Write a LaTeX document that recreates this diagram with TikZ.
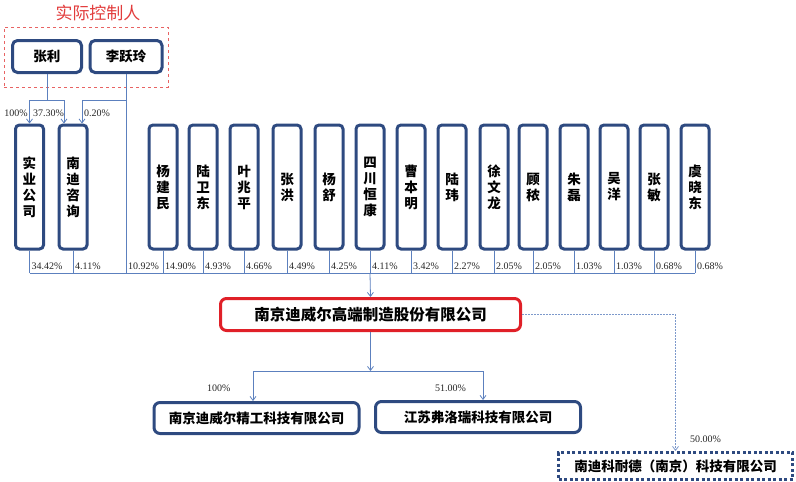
\documentclass[tikz,border=0pt]{standalone}
\usepackage{fontspec}
\setmainfont{Liberation Serif}
\newfontfamily\cjk{Noto Sans CJK SC}
\usetikzlibrary{arrows.meta,fit,calc}
\definecolor{navy}{RGB}{46,74,128}
\definecolor{conncol}{RGB}{92,128,190}
\definecolor{redmain}{RGB}{224,32,40}
\definecolor{redtitle}{RGB}{226,60,60}
\tikzset{
  person/.style={draw=navy, line width=3pt, rounded corners=4pt, minimum width=28pt, minimum height=124pt, inner sep=0pt, align=center, font=\cjk\bfseries\fontsize{13.5}{16}\selectfont},
  ctrl/.style={draw=navy, line width=3pt, rounded corners=5pt, minimum width=69pt, minimum height=32pt, inner sep=0pt, font=\cjk\bfseries\fontsize{13.5}{16}\selectfont},
  mainbox/.style={draw=redmain, line width=3pt, rounded corners=6pt, minimum width=300pt, minimum height=32pt, inner sep=0pt, font=\cjk\bfseries\fontsize{15.5}{18}\selectfont},
  subbox/.style={draw=navy, line width=3pt, rounded corners=6pt, minimum width=205pt, minimum height=31pt, inner sep=0pt, font=\cjk\bfseries\fontsize{13.5}{16}\selectfont},
  dotbox/.style={draw=navy, line width=3pt, dash pattern=on 3pt off 2.5pt, minimum width=234pt, minimum height=27pt, inner sep=0pt, font=\cjk\bfseries\fontsize{13.5}{16}\selectfont},
  conn/.style={draw=conncol, line width=0.8pt},
  arr/.style={-{Straight Barb[length=4pt,width=6pt]}},
  pct/.style={font=\fontsize{10}{12}\selectfont, inner sep=1pt, text=black!85},
  ctrlframe/.style={draw=redtitle!80, dashed, line width=0.6pt, inner sep=0pt},
}
\begin{document}
\begin{tikzpicture}[x=1pt,y=-1pt]
\useasboundingbox (0,0) rectangle (796,482);
% title and controllers
\node[font=\cjk\fontsize{17}{20}\selectfont, text=redtitle] (title) at (98,13) {实际控制人};
\node[ctrl] (zhang) at (47,56.5) {张利};
\node[ctrl, minimum width=72pt] (li) at (126,56.5) {李跃玲};
\node[ctrlframe, fit={(4,27) (168,87)}] (frame) {};
% left entities
\node[person] (shiye) at (29.5,187) {实\\业\\公\\司};
\node[person] (nandi) at (73,187) {南\\迪\\咨\\询};
% persons
\foreach \nm/\x/\t in {p1/163/{杨\\建\\民}, p2/203/{陆\\卫\\东}, p3/244/{叶\\兆\\平}, p4/287/{张\\洪}, p5/329/{杨\\舒}, p6/370/{四\\川\\恒\\康}, p7/411/{曹\\本\\明}, p8/452/{陆\\玮}, p9/494/{徐\\文\\龙}, p10/533/{顾\\秾}, p11/574/{朱\\磊}, p12/614/{吴\\洋}, p13/654/{张\\敏}, p14/695/{虞\\晓\\东}}{
  \node[person] (\nm) at (\x,187) {\t};
}
\coordinate (top) at (0,100);
\coordinate (bus) at (0,273);
% controllers to holding entities
\draw[conn] (zhang.south) -- (zhang.south |- top);
\draw[conn] (shiye.north |- top) -- ([xshift=-9pt]nandi.north |- top);
\draw[conn,arr] (shiye.north |- top) -- (shiye.north);
\draw[conn,arr] ([xshift=-9pt]nandi.north |- top) -- ([xshift=-9pt]nandi.north);
\draw[conn,arr] (li.south |- top) -| ([xshift=9pt]nandi.north);
\draw[conn] (li.south) -- (li.south |- bus);
\node[pct, anchor=east] at (29,113) {100\%};
\node[pct, anchor=west] at (32,113) {37.30\%};
\node[pct, anchor=west] at (83,113) {0.20\%};
% bus to main
\draw[conn] (shiye.south |- bus) -- (p14.south |- bus);
\foreach \nm/\pc in {shiye/34.42\%, nandi/4.11\%, p1/14.90\%, p2/4.93\%, p3/4.66\%, p4/4.49\%, p5/4.25\%, p6/4.11\%, p7/3.42\%, p8/2.27\%, p9/2.05\%, p10/2.05\%, p11/1.03\%, p12/1.03\%, p13/0.68\%, p14/0.68\%}{
  \draw[conn] (\nm.south) -- (\nm.south |- bus);
  \node[pct, anchor=south west, yshift=2.5pt, xshift=1pt] at (\nm.south |- bus) {\pc};
}
\node[pct, anchor=south west, yshift=2.5pt, xshift=1pt] at (li.south |- bus) {10.92\%};
\node[mainbox] (main) at (370.5,314.5) {南京迪威尔高端制造股份有限公司};
\draw[conn,arr] (p6.south |- bus) -- (main.north);
% subsidiaries
\node[subbox] (sub1) at (256.5,418) {南京迪威尔精工科技有限公司};
\node[subbox] (sub2) at (478,417) {江苏弗洛瑞科技有限公司};
\node[dotbox] (sub3) at (675.5,466) {南迪科耐德（南京）科技有限公司};
\coordinate (jn) at (370.5,371);
\draw[conn,arr] (main.south) -- (jn);
\draw[conn,arr] (jn) -| ([xshift=-3.5pt]sub1.north);
\draw[conn,arr] (jn) -| ([xshift=5pt]sub2.north);
\node[pct, anchor=west] at (206,388) {100\%};
\node[pct, anchor=west] at (434,388) {51.00\%};
\draw[conn, draw=conncol!80, dash pattern=on 1.5pt off 1.5pt, arr] (main.east) -| (sub3.north);
\node[pct, anchor=west] at (689,439) {50.00\%};
\end{tikzpicture}
\end{document}
